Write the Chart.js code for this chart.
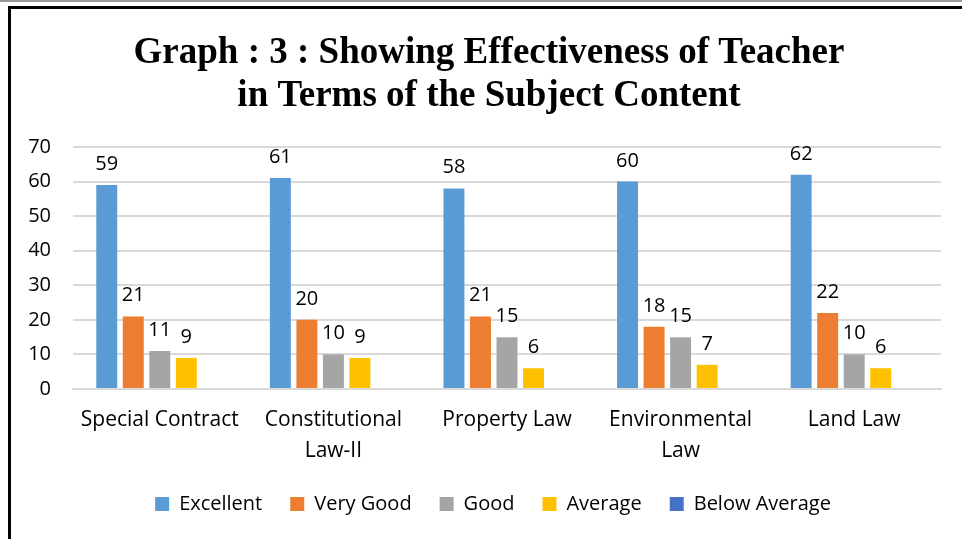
<!DOCTYPE html>
<html>
<head>
<meta charset="utf-8">
<script src="https://cdn.jsdelivr.net/npm/chart.js@4.4.1/dist/chart.umd.min.js"></script>
<style>
  html, body { margin: 0; padding: 0; background: #fff; }
  body { width: 962px; height: 539px; position: relative; overflow: hidden; }
  #gray { position: absolute; left: 0; top: 0; width: 962px; height: 2px; background: #9a9a9a; }
  #frameTop { position: absolute; left: 8px; top: 6px; width: 954px; height: 3px; background: #000; }
  #frameLeft { position: absolute; left: 8px; top: 6px; width: 3px; height: 533px; background: #000; }
  #wrap { position: absolute; left: 11px; top: 9px; width: 951px; height: 530px; }
</style>
</head>
<body>
<div id="gray"></div>
<div id="frameTop"></div>
<div id="frameLeft"></div>
<div id="wrap"><canvas id="c" width="951" height="530"></canvas></div>
<script>
const titleLines = ["Graph : 3 : Showing Effectiveness of Teacher", "in Terms of the Subject Content"];
const categories = [["Special Contract"], ["Constitutional", "Law-II"], ["Property Law"], ["Environmental", "Law"], ["Land Law"]];
const excellent = [59, 61, 58, 60, 62];
const veryGood = [21, 20, 21, 18, 22];
const good = [11, 10, 15, 15, 10];
const average = [9, 9, 6, 7, 6];
const belowAverage = [null, null, null, null, null];
const yTicks = [0, 10, 20, 30, 40, 50, 60, 70];

const FONT = "'Open Sans', Lato, sans-serif";

const titleText = {
  id: 'titleText',
  afterDraw(chart) {
    const ctx = chart.ctx;
    ctx.save();
    ctx.font = "bold 37px 'Liberation Serif', 'Times New Roman', serif";
    ctx.fillStyle = "#000";
    ctx.textAlign = "center";
    ctx.textBaseline = "alphabetic";
    const cx = 478;
    ctx.fillText(titleLines[0], cx, 54);
    ctx.fillText(titleLines[1], cx, 97);
    ctx.restore();
  }
};

const legendShift = {
  id: 'legendShift',
  afterLayout(chart) {
    if (chart.legend) {
      chart.legend.left += 17;
      chart.legend.right += 17;
    }
  }
};

const valueLabels = {
  id: 'valueLabels',
  afterDatasetsDraw(chart) {
    const ctx = chart.ctx;
    ctx.save();
    ctx.font = "20px " + FONT;
    ctx.fillStyle = "#000";
    ctx.textAlign = "center";
    ctx.textBaseline = "alphabetic";
    chart.data.datasets.forEach((ds, i) => {
      const meta = chart.getDatasetMeta(i);
      meta.data.forEach((bar, j) => {
        const v = ds.data[j];
        if (v === null || v === undefined) return;
        ctx.fillText(String(v), bar.x, bar.y - 15);
      });
    });
    ctx.restore();
  }
};

new Chart(document.getElementById('c'), {
  type: 'bar',
  data: {
    labels: categories,
    datasets: [
      { label: 'Excellent', data: excellent, backgroundColor: '#5B9BD5' },
      { label: 'Very Good', data: veryGood, backgroundColor: '#ED7D31' },
      { label: 'Good', data: good, backgroundColor: '#A5A5A5' },
      { label: 'Average', data: average, backgroundColor: '#FFC000' },
      { label: 'Below Average', data: belowAverage, backgroundColor: '#4472C4' }
    ]
  },
  options: {
    responsive: false,
    animation: false,
    layout: { padding: { left: 0, right: 21, top: 138, bottom: 15 } },
    datasets: { bar: { categoryPercentage: 0.764, barPercentage: 0.79 } },
    plugins: {
      title: { display: false },
      legend: {
        position: 'bottom',
        labels: {
          color: '#000',
          font: { family: FONT, size: 20 },
          boxWidth: 14, boxHeight: 14,
          padding: 28
        }
      },
      tooltip: { enabled: false }
    },
    scales: {
      x: {
        grid: { display: false, drawTicks: false },
        border: { display: true, color: '#d9d9d9', width: 2 },
        ticks: { color: '#000', font: { family: FONT, size: 21, lineHeight: 1.45 }, padding: 16, maxRotation: 0 },
        afterFit(scale) { scale.height = 77; }
      },
      y: {
        min: 0, max: 70,
        afterBuildTicks(scale) { scale.ticks = yTicks.map(v => ({ value: v })); },
        grid: { color: '#d9d9d9', lineWidth: 2, drawTicks: false },
        border: { display: false },
        ticks: { color: '#000', font: { family: FONT, size: 20 }, padding: 22 },
        afterFit(scale) { scale.width = 62; }
      }
    }
  },
  plugins: [legendShift, valueLabels, titleText]
});
</script>
</body>
</html>
